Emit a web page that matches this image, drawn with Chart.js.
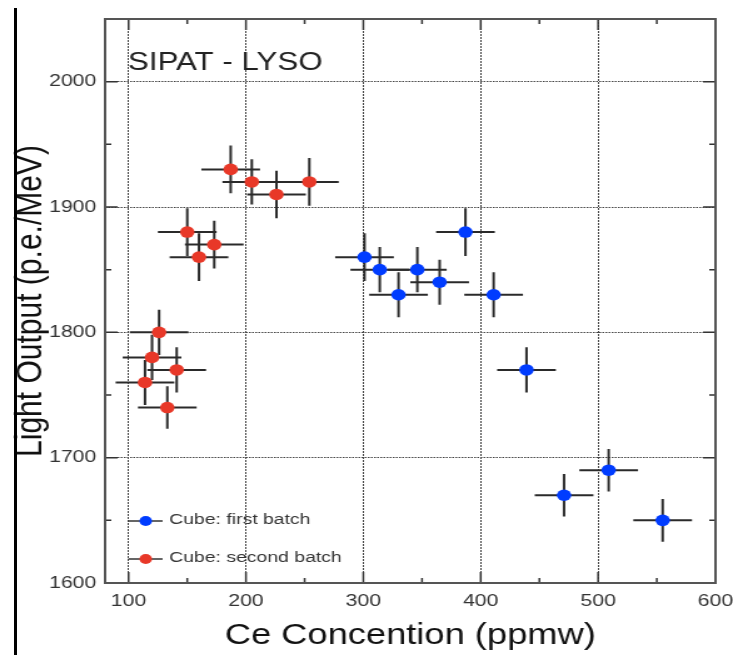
<!DOCTYPE html>
<html><head><meta charset="utf-8">
<script src="https://cdn.jsdelivr.net/npm/chart.js@4.4.1/dist/chart.umd.min.js"></script>
<style>
html,body{margin:0;padding:0;background:#fff;width:733px;height:655px;overflow:hidden;}
#wrap{position:relative;width:733px;height:655px;}
#c{position:absolute;left:0;top:0;width:733px;height:655px;}
#edge{position:absolute;left:14px;top:8px;width:3px;height:647px;background:#000;}
</style></head><body>
<div id="wrap"><canvas id="c" width="586" height="655" style="width:733px;height:655px"></canvas><div id="edge"></div></div>
<script>
const chartTitle = 'SIPAT - LYSO';
const xTitle = 'Ce Concention (ppmw)';
const yTitle = 'Light Output (p.e./MeV)';
const xTicks = [100, 200, 300, 400, 500, 600];
const yTicks = [1600, 1700, 1800, 1900, 2000];
const xMinorTicks = [150, 250, 350, 450, 550];
const yMinorTicks = [1650, 1750, 1850, 1950];

const firstLabel = 'Cube: first batch';
const firstX    = [301, 314, 330, 346, 365, 387, 411, 439, 471, 509, 555];
const firstY    = [1860, 1850, 1830, 1850, 1840, 1880, 1830, 1770, 1670, 1690, 1650];
const firstXErr = [25, 25, 25, 25, 25, 25, 25, 25, 25, 25, 25];
const firstYErr = [19, 18, 18, 18, 18, 19, 18, 18, 17, 17, 17];

const secondLabel = 'Cube: second batch';
const secondX    = [187, 205, 226, 254, 150, 160, 173, 126, 120, 141, 114, 133];
const secondY    = [1930, 1920, 1910, 1920, 1880, 1860, 1870, 1800, 1780, 1770, 1760, 1740];
const secondXErr = [25, 25, 25, 25, 25, 25, 25, 25, 25, 25, 25, 25];
const secondYErr = [19, 18, 19, 19, 19, 19, 19, 18, 18, 18, 18, 17];

const FONT = "'Liberation Sans', Arial, Helvetica, sans-serif";
const BLUE = 'rgb(0, 60, 255)';
const RED = 'rgb(232, 56, 40)';

function pts(xs, ys, xe, ye) {
  return xs.map((v, i) => ({x: v, y: ys[i], xErr: xe[i], yErr: ye[i]}));
}

const framePlugin = {
  id: 'frame',
  beforeDatasetsDraw(chart) {
    const {ctx, chartArea: a, scales: {x, y}} = chart;
    ctx.save();
    ctx.strokeStyle = '#333';
    ctx.lineWidth = 1.5;
    ctx.beginPath();
    xTicks.forEach(v => {
      const px = x.getPixelForValue(v);
      ctx.moveTo(px, a.bottom); ctx.lineTo(px, a.bottom - 11);
      ctx.moveTo(px, a.top); ctx.lineTo(px, a.top + 11);
    });
    xMinorTicks.forEach(v => {
      const px = x.getPixelForValue(v);
      ctx.moveTo(px, a.bottom); ctx.lineTo(px, a.bottom - 5);
      ctx.moveTo(px, a.top); ctx.lineTo(px, a.top + 5);
    });
    yTicks.forEach(v => {
      const py = y.getPixelForValue(v);
      ctx.moveTo(a.left, py); ctx.lineTo(a.left + 10, py);
      ctx.moveTo(a.right, py); ctx.lineTo(a.right - 10, py);
    });
    yMinorTicks.forEach(v => {
      const py = y.getPixelForValue(v);
      ctx.moveTo(a.left, py); ctx.lineTo(a.left + 5, py);
      ctx.moveTo(a.right, py); ctx.lineTo(a.right - 5, py);
    });
    ctx.stroke();
    ctx.strokeStyle = '#555';
    ctx.lineWidth = 2;
    ctx.strokeRect(a.left, a.top, a.right - a.left, a.bottom - a.top);
    ctx.restore();
  }
};

const errorBarPlugin = {
  id: 'errorBars',
  beforeDatasetsDraw(chart) {
    const {ctx, scales: {x, y}} = chart;
    ctx.save();
    ctx.strokeStyle = '#2a2a2a';
    ctx.lineWidth = 2;
    chart.data.datasets.forEach(ds => {
      ds.data.forEach(p => {
        const px = x.getPixelForValue(p.x), py = y.getPixelForValue(p.y);
        ctx.beginPath();
        ctx.moveTo(x.getPixelForValue(p.x - p.xErr), py);
        ctx.lineTo(x.getPixelForValue(p.x + p.xErr), py);
        ctx.moveTo(px, y.getPixelForValue(p.y - p.yErr));
        ctx.lineTo(px, y.getPixelForValue(p.y + p.yErr));
        ctx.stroke();
      });
    });
    ctx.restore();
  }
};

const decorPlugin = {
  id: 'decor',
  afterDraw(chart) {
    const {ctx} = chart;
    ctx.save();
    ctx.fillStyle = '#222';
    ctx.font = '25px ' + FONT;
    ctx.textBaseline = 'alphabetic';
    ctx.textAlign = 'left';
    ctx.fillText(chartTitle, 102.3, 69.5);
    const rows = [521, 559];
    const bases = [523.8, 562];
    chart.data.datasets.forEach((ds, i) => {
      const yy = rows[i];
      ctx.strokeStyle = '#333';
      ctx.lineWidth = 1.5;
      ctx.beginPath();
      ctx.moveTo(102.6, yy); ctx.lineTo(130, yy);
      ctx.stroke();
      ctx.fillStyle = ds.backgroundColor;
      ctx.beginPath();
      ctx.arc(116.5, yy, 5, 0, Math.PI * 2);
      ctx.fill();
      ctx.fillStyle = '#333';
      ctx.font = '15.5px ' + FONT;
      ctx.fillText(ds.label, 135.3, bases[i]);
    });
    ctx.restore();
  }
};

new Chart(document.getElementById('c'), {
  type: 'scatter',
  data: {
    datasets: [
      {label: firstLabel, data: pts(firstX, firstY, firstXErr, firstYErr),
       backgroundColor: BLUE, borderColor: BLUE, pointRadius: 5.8, pointBorderWidth: 0, pointHoverRadius: 5.8},
      {label: secondLabel, data: pts(secondX, secondY, secondXErr, secondYErr),
       backgroundColor: RED, borderColor: RED, pointRadius: 5.8, pointBorderWidth: 0, pointHoverRadius: 5.8}
    ]
  },
  options: {
    responsive: false,
    animation: false,
    devicePixelRatio: 1,
    layout: {padding: {top: 19, right: 14, bottom: 0, left: 0}},
    plugins: {legend: {display: false}, tooltip: {enabled: false}},
    scales: {
      x: {
        type: 'linear', min: 80, max: 600,
        afterBuildTicks: s => { s.ticks = xTicks.map(v => ({value: v})); },
        afterFit: s => { s.height = 72; s.paddingLeft = 0; s.paddingRight = 0; },
        grid: {drawTicks: false, color: '#444', lineWidth: 1},
        border: {display: false, dash: [2, 1]},
        ticks: {padding: 8, color: '#333', font: {family: FONT, size: 17}, callback: v => String(v)},
        title: {display: true, text: xTitle, color: '#111', font: {family: FONT, size: 29}, padding: {top: 0, bottom: 2}}
      },
      y: {
        type: 'linear', min: 1600, max: 2050,
        afterBuildTicks: s => { s.ticks = yTicks.map(v => ({value: v})); },
        afterFit: s => { s.width = 84; s.paddingTop = 0; s.paddingBottom = 0; },
        grid: {drawTicks: false, color: '#444', lineWidth: 1},
        border: {display: false, dash: [1.5, 1]},
        ticks: {padding: 7, color: '#333', font: {family: FONT, size: 17}, callback: v => String(v)},
        title: {display: true, text: yTitle, color: '#111', font: {family: FONT, size: 30}, padding: {top: 7, bottom: 0}}
      }
    }
  },
  plugins: [framePlugin, errorBarPlugin, decorPlugin]
});
</script>
</body></html>
